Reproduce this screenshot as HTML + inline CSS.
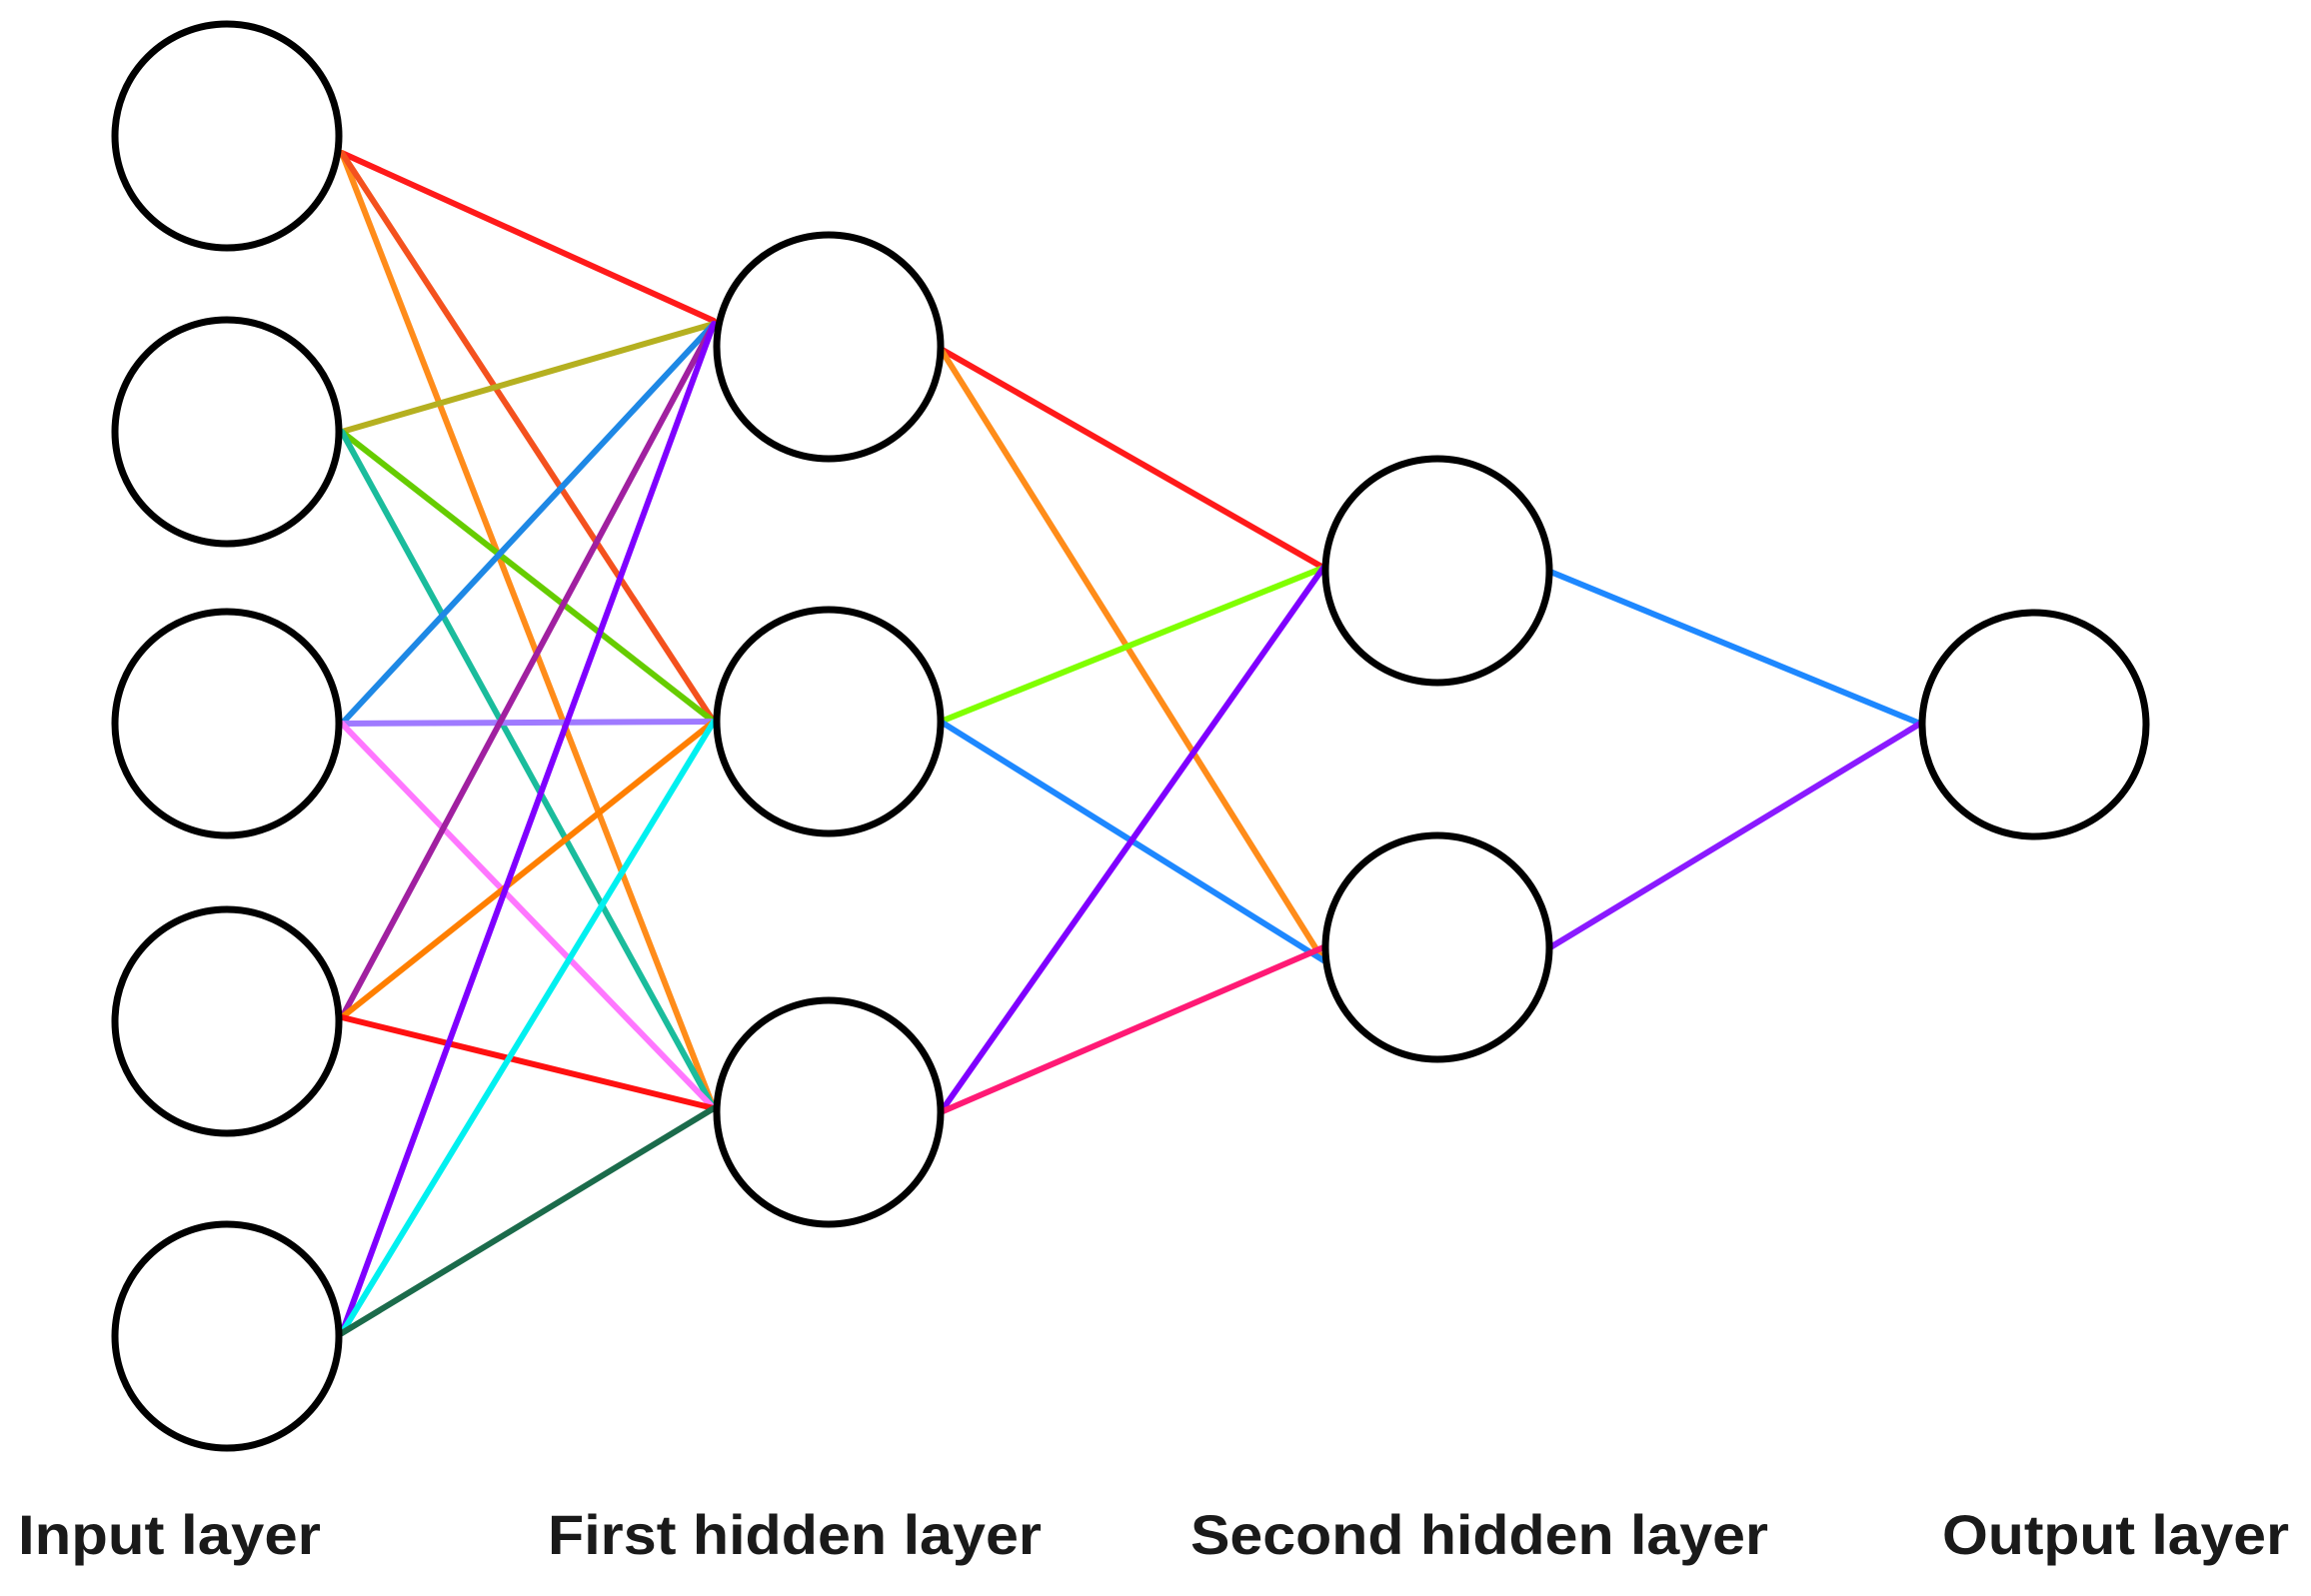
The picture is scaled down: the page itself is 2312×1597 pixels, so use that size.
<!DOCTYPE html>
<html><head><meta charset="utf-8"><style>html,body{margin:0;padding:0;background:#fff}svg{display:block}</style></head>
<body>
<svg width="2312" height="1597" viewBox="0 0 2312 1597" xmlns="http://www.w3.org/2000/svg">
<g stroke-width="6" fill="none" stroke-linecap="round">
<line x1="342" y1="153" x2="714" y2="321" stroke="#ff1a1a"/>
<line x1="342" y1="153" x2="714" y2="1109" stroke="#ff8c1a"/>
<line x1="342" y1="153" x2="714" y2="722" stroke="#f4511e"/>
<line x1="342" y1="432" x2="714" y2="324" stroke="#b5b020"/>
<line x1="342" y1="432" x2="714" y2="722" stroke="#66cc00"/>
<line x1="342" y1="432" x2="714" y2="1109" stroke="#1abc9c"/>
<line x1="342" y1="724" x2="714" y2="324" stroke="#1e88e5"/>
<line x1="342" y1="724" x2="714" y2="722" stroke="#9f7aff"/>
<line x1="342" y1="724" x2="714" y2="1109" stroke="#ff77ff"/>
<line x1="342" y1="1018" x2="714" y2="324" stroke="#a020a0"/>
<line x1="342" y1="1018" x2="714" y2="722" stroke="#ff7f00"/>
<line x1="342" y1="1018" x2="714" y2="1109" stroke="#ff1010"/>
<line x1="342" y1="1334" x2="714" y2="324" stroke="#7f00ff"/>
<line x1="342" y1="1334" x2="714" y2="722" stroke="#00f0f0"/>
<line x1="342" y1="1334" x2="714" y2="1109" stroke="#1b6b4b"/>
<line x1="941" y1="349" x2="1324" y2="568" stroke="#ff1a1a"/>
<line x1="941" y1="349" x2="1324" y2="961" stroke="#ff8c1a"/>
<line x1="941" y1="722" x2="1324" y2="568" stroke="#80ff00"/>
<line x1="941" y1="722" x2="1324" y2="961" stroke="#1e88ff"/>
<line x1="941" y1="1113" x2="1324" y2="568" stroke="#7f00ff"/>
<line x1="941" y1="1113" x2="1324" y2="948" stroke="#ff1a75"/>
<line x1="1551" y1="572" x2="1921" y2="724" stroke="#1e88ff"/>
<line x1="1551" y1="948" x2="1921" y2="724" stroke="#8a1aff"/>
</g>
<g stroke="#000" stroke-width="7" fill="none">
<circle cx="227" cy="136" r="112"/>
<circle cx="227" cy="432" r="112"/>
<circle cx="227" cy="724" r="112"/>
<circle cx="227" cy="1022" r="112"/>
<circle cx="227" cy="1337" r="112"/>
<circle cx="829" cy="347" r="112"/>
<circle cx="829" cy="722" r="112"/>
<circle cx="829" cy="1113" r="112"/>
<circle cx="1438" cy="571" r="112"/>
<circle cx="1438" cy="948" r="112"/>
<circle cx="2035" cy="725" r="112"/>
</g>
<g font-family="Liberation Sans, sans-serif" font-weight="bold" font-size="56" fill="#1a1a1a">
<text x="18" y="1555" textLength="303" lengthAdjust="spacingAndGlyphs">Input layer</text>
<text x="548" y="1555" textLength="494" lengthAdjust="spacingAndGlyphs">First hidden layer</text>
<text x="1191" y="1555" textLength="578" lengthAdjust="spacingAndGlyphs">Second hidden layer</text>
<text x="1943" y="1555" textLength="347" lengthAdjust="spacingAndGlyphs">Output layer</text>
</g>
</svg>
</body></html>
